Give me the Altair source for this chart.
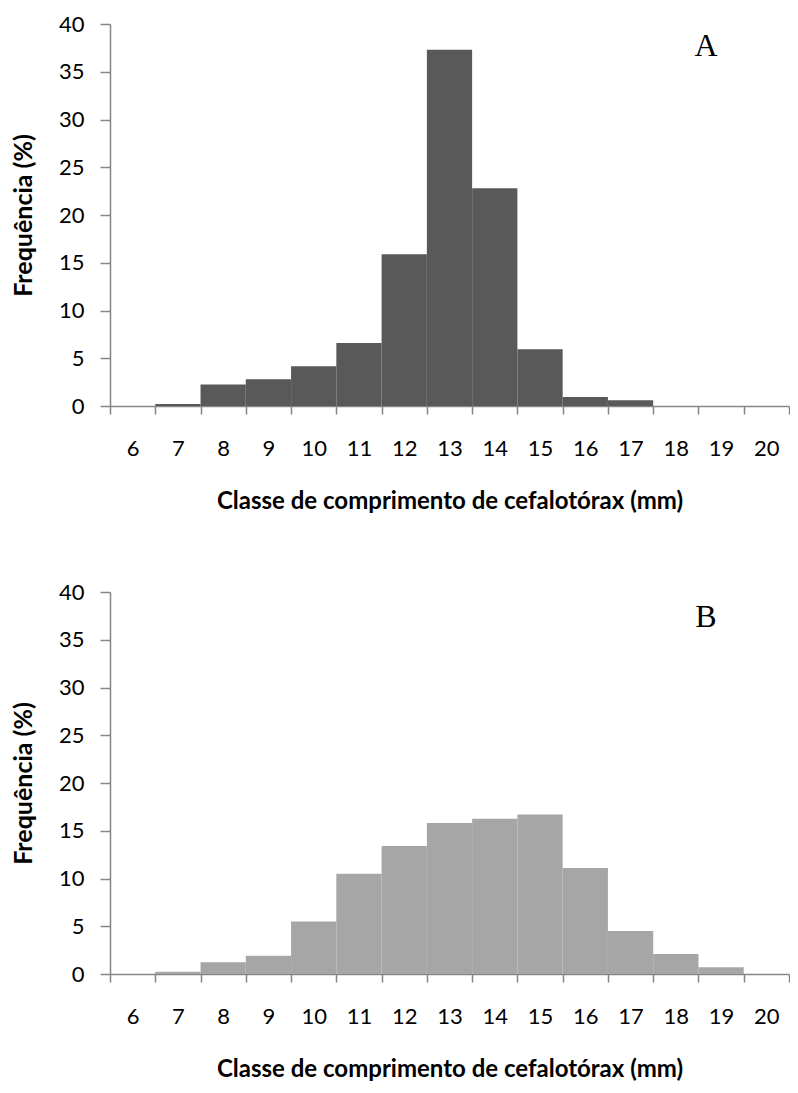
import altair as alt
import pandas as pd

classes = list(range(6, 21))
freq_a = [0, 0.2, 2.25, 2.8, 4.15, 6.6, 15.9, 37.3, 22.8, 5.95, 0.95, 0.6, 0, 0, 0]
freq_b = [0, 0.24, 1.24, 1.9, 5.5, 10.5, 13.4, 15.8, 16.25, 16.7, 11.1, 4.5, 2.1, 0.7, 0]
y_ticks = [0, 5, 10, 15, 20, 25, 30, 35, 40]
x_title = "Classe de comprimento de cefalotórax (mm)"
y_title = "Frequência (%)"

FONT = "Lato"
AXIS_COLOR = "#868686"


def panel(values, color, letter, ly):
    df = pd.DataFrame({"classe": classes, "freq": values})
    bars = alt.Chart(df).mark_bar(color=color).encode(
        x=alt.X(
            "classe:O",
            scale=alt.Scale(paddingInner=0, paddingOuter=0),
            axis=alt.Axis(
                title=x_title, labelAngle=0, tickBand="extent", tickSize=8,
                labelPadding=24, labelFont=FONT, labelFontSize=22, labelColor="black",
                titleFont=FONT, titleFontSize=24, titleFontWeight="bold",
                titleColor="black", titlePadding=30,
                domainColor=AXIS_COLOR, tickColor=AXIS_COLOR,
                domainWidth=1.5, tickWidth=1.5,
            ),
        ),
        y=alt.Y(
            "freq:Q",
            scale=alt.Scale(domain=[0, 40]),
            axis=alt.Axis(
                title=y_title, values=y_ticks, grid=False, tickSize=10,
                labelPadding=16, labelFont=FONT, labelFontSize=22, labelColor="black",
                titleFont=FONT, titleFontSize=25, titleFontWeight="bold",
                titleColor="black", titlePadding=22,
                domainColor=AXIS_COLOR, tickColor=AXIS_COLOR,
                domainWidth=1.5, tickWidth=1.5,
            ),
        ),
    )
    label = alt.Chart(pd.DataFrame({"t": [letter]})).mark_text(
        font="Liberation Serif", fontSize=32, baseline="middle", align="center"
    ).encode(text="t:N", x=alt.value(596), y=alt.value(ly))
    return (bars + label).properties(width=679, height=382)


chart = alt.vconcat(
    panel(freq_a, "#595959", "A", 22),
    panel(freq_b, "#a6a6a6", "B", 25),
    spacing=68,
).properties(
    padding={"left": 3, "top": 5, "right": 0, "bottom": 0}
).configure_view(stroke=None)

chart.save("out.html", embed_options={"renderer": "svg", "actions": False})
